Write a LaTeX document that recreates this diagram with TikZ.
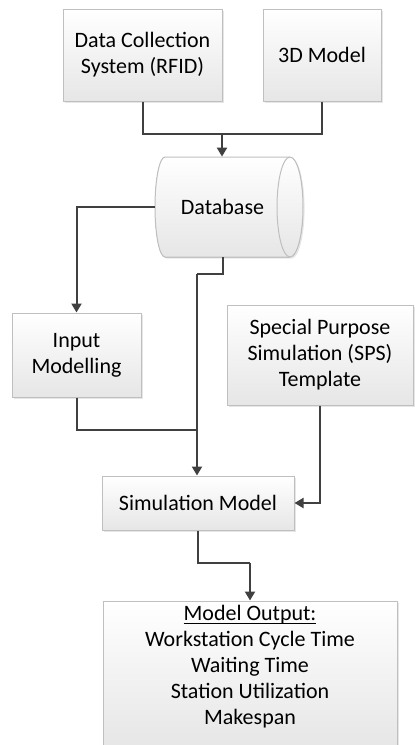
\documentclass[tikz,border=0pt]{standalone}
\usepackage{fontspec}
\setmainfont{Carlito}
\usetikzlibrary{arrows.meta,shadows}
\definecolor{boxline}{HTML}{BFBFBF}
\definecolor{boxfill}{HTML}{E6E6E6}
\definecolor{linkcol}{HTML}{404040}

\begin{document}
\begin{tikzpicture}[x=0.5pt, y=-0.5pt,
  box/.style={draw=boxline, line width=0.5pt, top color=white, bottom color=boxfill,
    drop shadow={shadow xshift=0.8pt, shadow yshift=-0.8pt, opacity=0.2},
    align=center, inner sep=0pt, font=\fontsize{11}{13}\selectfont},
  label/.style={align=center, inner sep=0pt, font=\fontsize{11}{13}\selectfont},
  link/.style={draw=linkcol, line width=1pt},
  flow/.style={link, -{Triangle[width=5pt, length=4.5pt]}}]
\useasboundingbox (0,0) rectangle (414,745);
% boxes
\node[box, minimum width=79.5pt, minimum height=46pt] (dcs) at (142.5,55) {Data Collection\\System (RFID)};
\node[box, minimum width=59pt, minimum height=46pt] (model) at (322,55) {3D Model};
% database drum
\filldraw[draw=boxline, line width=0.5pt, top color=white, bottom color=boxfill,
  drop shadow={shadow xshift=0.8pt, shadow yshift=-0.8pt, opacity=0.2}]
  (165,157) -- (290,157) arc[start angle=-90, end angle=90, x radius=13, y radius=50]
  -- (165,257) arc[start angle=90, end angle=270, x radius=10, y radius=50] -- cycle;
\draw[boxline, line width=0.5pt] (290,157) arc[start angle=270, end angle=90, x radius=13, y radius=50];
\node[label, minimum width=67.5pt, minimum height=50pt] (db) at (222.5,207) {Database};
\node[box, minimum width=64.5pt, minimum height=42pt] (input) at (76.5,355) {Input\\Modelling};
\node[box, minimum width=93pt, minimum height=50pt] (sps) at (320,355) {Special Purpose\\Simulation (SPS)\\Template};
\node[box, minimum width=96pt, minimum height=27pt] (sim) at (198,503) {Simulation Model};
\node[box, minimum width=147pt, minimum height=73pt] (out) at (250,674)
  {\underline{\smash{Model Output:}}\\Workstation Cycle Time\\Waiting Time\\Station Utilization\\Makespan};
% connectors
\coordinate (j1) at (222,134);
\draw[link] (dcs.south) |- (j1) -| (model.south);
\draw[flow] (j1) -- (j1 |- db.north);
\draw[flow] (db.west) -| (input.north);
\coordinate (j2) at (197,274);
\coordinate (j3) at (197,430);
\draw[link] (db.south) |- (j2);
\draw[flow] (j2) -- (j2 |- sim.north);
\draw[link] (input.south) |- (j3);
\draw[flow] (sps.south) |- (sim.east);
\coordinate (j4) at (250,563);
\draw[link] (sim.south) |- (j4);
\draw[flow] (j4) -- (out.north);
\end{tikzpicture}
\end{document}
